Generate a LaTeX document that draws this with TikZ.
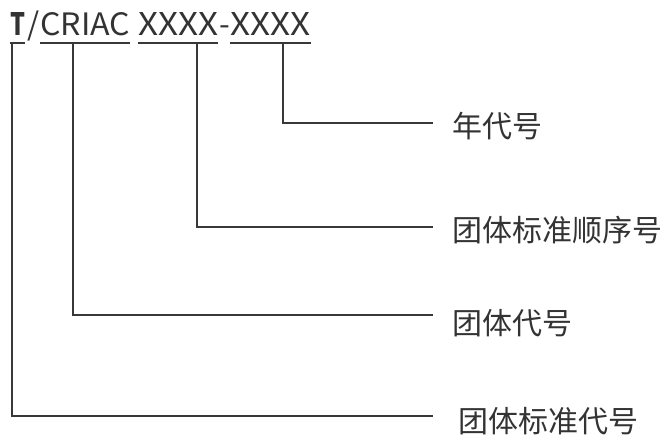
\documentclass[tikz,border=0pt]{standalone}
\usepackage{fontspec}
\usepackage{graphicx}
\newfontfamily\cjk{Noto Sans CJK SC}
\begin{document}
\begin{tikzpicture}[x=1pt,y=-1pt,
  ln/.style={draw=black!78,line width=1.4pt},
  lab/.style={font=\cjk\fontsize{30}{30}\selectfont,anchor=west,inner sep=0pt,text=black!80},
  ttl/.style={font=\cjk\fontsize{31}{31}\selectfont,anchor=base west,inner sep=0pt,text=black!80}]
\useasboundingbox (0,0) rectangle (664,442);
% title pieces
\node[ttl] (tT)  at (10,35)  {\resizebox{15pt}{23pt}{\textbf{T}}};
\node[ttl] (tS)  at (27,35)  {/};
\node[ttl] (tC)  at (40,35)  {\resizebox{90pt}{23pt}{CRIAC}};
\node[ttl] (tX1) at (138,35) {\resizebox{80pt}{23pt}{XXXX}};
\node[ttl] (tD)  at (219,35) {-};
\node[ttl] (tX2) at (230,35) {\resizebox{80pt}{23pt}{XXXX}};
% underlines
\coordinate (uTa) at (10,43);  \coordinate (uTb) at (25,43);
\coordinate (uCa) at (40,43);  \coordinate (uCb) at (130,43);
\coordinate (uXa) at (138,43); \coordinate (uXb) at (218,43);
\coordinate (uYa) at (230,43); \coordinate (uYb) at (311,43);
\draw[ln] (uTa) -- (uTb);
\draw[ln] (uCa) -- (uCb);
\draw[ln] (uXa) -- (uXb);
\draw[ln] (uYa) -- (uYb);
% labels
\node[lab] (l1) at (452,126) {年代号};
\node[lab] (l2) at (452,230) {团体标准顺序号};
\node[lab] (l3) at (452,323) {团体代号};
\node[lab] (l4) at (458,421) {团体标准代号};
% connector start points
\coordinate (s1) at (283,43);
\coordinate (s2) at (197,43);
\coordinate (s3) at (73,43);
\coordinate (s4) at (12,43);
% connector ends
\coordinate (e1) at (433,123);
\coordinate (e2) at (433,227);
\coordinate (e3) at (433,315);
\coordinate (e4) at (433,416);
\draw[ln] (s1) |- (e1);
\draw[ln] (s2) |- (e2);
\draw[ln] (s3) |- (e3);
\draw[ln] (s4) |- (e4);
\end{tikzpicture}
\end{document}
